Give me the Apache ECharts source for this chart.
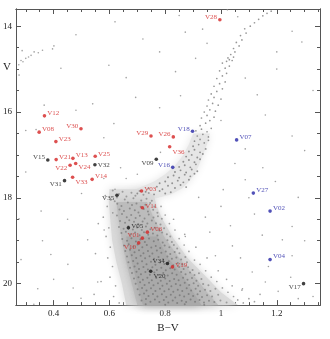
<!DOCTYPE html>
<html><head><meta charset="utf-8">
<script src="https://cdn.jsdelivr.net/npm/echarts@6/dist/echarts.min.js"></script>
<style>html,body{margin:0;padding:0;background:#fff}#c{width:330px;height:339px}</style>
</head><body><div id="c"></div>
<script>
// ---- axis ticks ----
const xTickLabels = [0.4, 0.6, 0.8, 1, 1.2];
const xMinorTicks = [0.3, 0.35, 0.45, 0.5, 0.55, 0.65, 0.7, 0.75, 0.85, 0.9, 0.95, 1.05, 1.1, 1.15, 1.25, 1.3, 1.35];
const yTickLabels = [14, 16, 18, 20];
const yMinorTicks = [14.5, 15, 15.5, 16.5, 17, 17.5, 18.5, 19, 19.5];

// ---- variable stars ----
const varNames = ['V28','V12','V08','V30','V23','V29','V26','V18','V36','V09','V16','V07','V15','V21','V13','V25','V22','V24','V32','V31','V33','V14','V35','V03','V11','V05','V06','V01','V10','V34','V19','V20','V27','V02','V04','V17'];
const varBV = [0.996,0.367,0.348,0.498,0.408,0.749,0.829,0.898,0.816,0.768,0.827,1.056,0.379,0.409,0.469,0.549,0.459,0.479,0.548,0.439,0.468,0.538,0.627,0.715,0.718,0.668,0.736,0.718,0.705,0.808,0.826,0.748,1.116,1.176,1.176,1.296];
const varV = [13.85,16.09,16.47,16.39,16.69,16.56,16.58,16.45,16.81,17.10,17.29,16.65,17.12,17.11,17.08,17.03,17.24,17.20,17.23,17.60,17.52,17.57,17.94,17.84,18.23,18.70,18.80,18.94,19.05,19.53,19.61,19.71,17.89,18.31,19.44,20.00];
const varGroup = ['red','red','red','red','red','red','red','blue','red','black','blue','blue','black','red','red','red','red','red','black','black','red','red','black','red','red','black','red','red','red','black','red','black','blue','blue','blue','black'];

// ---- density envelopes of the cluster sequences ----
const msEnvelope = [[0.60,17.8],[0.598,18.1],[0.603,18.5],[0.61,19.0],[0.625,19.5],[0.645,20.0],[0.66,20.5],[1.06,20.5],[1.0,20.2],[0.94,19.8],[0.88,19.4],[0.83,18.95],[0.79,18.5],[0.77,18.2],[0.76,17.95],[0.72,17.8]];
const msCore = [[0.625,18.1],[0.632,18.5],[0.645,19.0],[0.66,19.5],[0.68,20.0],[0.70,20.5],[0.99,20.5],[0.95,20.2],[0.9,19.8],[0.85,19.4],[0.8,18.95],[0.76,18.5],[0.735,18.1]];
const msDense = [[0.66,18.9],[0.68,19.5],[0.70,20.0],[0.72,20.5],[0.93,20.5],[0.9,20.2],[0.86,19.8],[0.81,19.4],[0.77,18.9]];
const sgbEnvelope = [[0.64,17.95],[0.70,17.78],[0.76,17.62],[0.80,17.45],[0.835,17.25],[0.865,17.0],[0.885,16.75],[0.9,16.5],[0.96,16.5],[0.95,16.75],[0.935,17.0],[0.92,17.25],[0.905,17.45],[0.885,17.62],[0.86,17.78],[0.82,17.92],[0.76,18.02]];

// ---- stars ----
const msUpper = [[0.612,17.83],[0.634,17.91],[0.647,17.86],[0.661,17.97],[0.679,17.88],[0.693,17.95],[0.708,17.84],[0.722,17.93],[0.741,17.89],[0.627,17.99],[0.655,18.04],[0.686,18.01],[0.714,18.06],[0.733,18.02],[0.752,18.07],[0.619,18.08],
[0.628,18.14],[0.643,18.19],[0.666,18.11],[0.681,18.17],[0.697,18.13],[0.712,18.21],[0.729,18.16],[0.746,18.12],[0.761,18.2],[0.636,18.27],[0.652,18.31],[0.673,18.25],[0.691,18.29],[0.704,18.34],[0.723,18.26],[0.738,18.32],[0.757,18.28],[0.772,18.35],
[0.627,18.41],[0.645,18.38],[0.662,18.45],[0.678,18.4],[0.694,18.47],[0.709,18.42],[0.726,18.48],[0.741,18.39],[0.758,18.46],[0.774,18.43],[0.788,18.49],[0.638,18.54],[0.656,18.58],[0.671,18.52],[0.688,18.56],[0.703,18.61],[0.719,18.55],[0.736,18.6],[0.752,18.53],[0.767,18.59],[0.783,18.62],
[0.634,18.68],[0.651,18.72],[0.668,18.66],[0.684,18.74],[0.699,18.69],[0.716,18.75],[0.731,18.67],[0.747,18.73],[0.763,18.7],[0.779,18.76],[0.796,18.71],[0.643,18.82],[0.659,18.79],[0.676,18.85],[0.692,18.81],[0.708,18.87],[0.724,18.8],[0.739,18.86],[0.756,18.83],[0.772,18.88],[0.789,18.81],[0.806,18.85],[0.818,18.9],
[0.646,18.96],[0.663,19.0],[0.679,18.94],[0.695,19.02],[0.711,18.97],[0.727,19.03],[0.742,18.95],[0.759,19.01],[0.775,18.98],[0.791,19.04],[0.808,18.99],[0.824,19.03],[0.652,19.11],[0.669,19.08],[0.686,19.14],[0.701,19.09],[0.718,19.15],[0.734,19.1],[0.75,19.16],[0.766,19.12],[0.782,19.17],[0.798,19.11],[0.815,19.15],[0.831,19.1],[0.843,19.18]];
const msLower = [[0.657,19.24],[0.674,19.21],[0.69,19.27],[0.706,19.22],[0.722,19.29],[0.738,19.24],[0.754,19.3],[0.77,19.23],[0.786,19.28],[0.802,19.25],[0.818,19.31],[0.834,19.26],[0.851,19.29],[0.663,19.37],[0.68,19.34],[0.696,19.4],[0.712,19.35],[0.728,19.41],[0.744,19.36],[0.76,19.42],[0.776,19.38],[0.792,19.43],[0.808,19.37],[0.824,19.42],[0.84,19.39],[0.857,19.44],[0.872,19.38],
[0.668,19.5],[0.685,19.47],[0.701,19.53],[0.717,19.48],[0.733,19.55],[0.749,19.49],[0.765,19.56],[0.781,19.51],[0.797,19.54],[0.813,19.48],[0.829,19.57],[0.845,19.52],[0.861,19.55],[0.878,19.5],[0.674,19.63],[0.69,19.6],[0.706,19.66],[0.722,19.61],[0.738,19.67],[0.754,19.62],[0.77,19.68],[0.786,19.63],[0.802,19.69],[0.818,19.64],[0.834,19.67],[0.85,19.61],[0.866,19.66],[0.882,19.62],[0.898,19.68],
[0.681,19.75],[0.697,19.72],[0.713,19.78],[0.729,19.73],[0.745,19.79],[0.761,19.74],[0.777,19.8],[0.793,19.75],[0.809,19.81],[0.825,19.76],[0.841,19.79],[0.857,19.73],[0.873,19.78],[0.889,19.74],[0.905,19.8],[0.921,19.76],[0.688,19.88],[0.704,19.85],[0.72,19.91],[0.736,19.86],[0.752,19.92],[0.768,19.87],[0.784,19.93],[0.8,19.88],[0.816,19.94],[0.832,19.89],[0.848,19.92],[0.864,19.86],[0.88,19.91],[0.896,19.87],[0.912,19.93],[0.93,19.89],
[0.694,20.0],[0.71,19.97],[0.726,20.03],[0.742,19.98],[0.758,20.04],[0.774,19.99],[0.79,20.05],[0.806,20.0],[0.822,20.06],[0.838,20.01],[0.854,20.04],[0.87,19.98],[0.886,20.03],[0.902,19.99],[0.918,20.05],[0.936,20.01],[0.955,20.04],[0.701,20.13],[0.717,20.1],[0.733,20.16],[0.749,20.11],[0.765,20.17],[0.781,20.12],[0.797,20.18],[0.813,20.13],[0.829,20.19],[0.845,20.14],[0.861,20.17],[0.877,20.11],[0.893,20.16],[0.909,20.12],[0.925,20.18],[0.943,20.14],[0.962,20.17],[0.98,20.12],
[0.708,20.26],[0.724,20.23],[0.74,20.29],[0.756,20.24],[0.772,20.3],[0.788,20.25],[0.804,20.31],[0.82,20.26],[0.836,20.32],[0.852,20.27],[0.868,20.3],[0.884,20.24],[0.9,20.29],[0.916,20.25],[0.932,20.31],[0.95,20.27],[0.968,20.3],[0.99,20.26],[0.715,20.39],[0.731,20.36],[0.747,20.42],[0.763,20.37],[0.779,20.43],[0.795,20.38],[0.811,20.44],[0.827,20.39],[0.843,20.45],[0.859,20.4],[0.875,20.43],[0.891,20.37],[0.907,20.42],[0.923,20.38],[0.939,20.44],[0.957,20.4],[0.976,20.43],[0.998,20.39],[1.02,20.44],[0.73,20.48],[0.8,20.49],[0.87,20.48],[0.94,20.49]];
const msHalo = [[0.585,17.95],[0.592,18.2],[0.578,18.45],[0.598,18.7],[0.588,18.9],[0.603,19.15],[0.594,19.4],[0.611,19.6],[0.602,19.85],[0.622,20.05],[0.615,20.3],[0.635,20.45],[0.56,18.6],[0.55,19.3],[0.57,19.95],[0.545,20.25],[0.605,18.05],[0.612,18.35],
[0.785,18.2],[0.8,18.4],[0.815,18.6],[0.835,18.75],[0.85,18.95],[0.868,19.1],[0.885,19.25],[0.905,19.45],[0.925,19.55],[0.945,19.7],[0.965,19.85],[0.985,19.95],[1.005,20.1],[1.025,20.2],[1.045,20.3],[1.06,20.38],[1.08,20.45],[1.1,20.35],[1.04,20.05],[0.99,19.7],[0.95,19.4],[0.91,19.15],[0.87,18.85],[0.83,18.5],[1.12,20.42],[1.14,20.25],[1.075,20.15],[1.02,19.9]];
const sgbStars = [[0.70,17.9],[0.73,17.86],[0.76,17.92],[0.78,17.84],[0.8,17.9],[0.82,17.87],[0.74,17.78],[0.77,17.74],[0.79,17.8],[0.81,17.72],[0.835,17.77],[0.855,17.7],[0.875,17.75],[0.78,17.66],[0.8,17.62],[0.825,17.66],[0.845,17.6],[0.865,17.64],[0.885,17.58],
[0.81,17.52],[0.83,17.48],[0.85,17.53],[0.87,17.46],[0.89,17.5],[0.905,17.44],[0.835,17.4],[0.855,17.36],[0.875,17.41],[0.895,17.34],[0.915,17.38],[0.85,17.28],[0.87,17.24],[0.89,17.29],[0.91,17.22],
[0.865,17.16],[0.885,17.12],[0.905,17.17],[0.925,17.1],[0.875,17.04],[0.895,17.0],[0.915,17.06],[0.935,16.98],[0.885,16.92],[0.905,16.88],[0.925,16.94],[0.945,16.86],[0.9,16.8]];
const rgbStars = [[0.92,16.76],[0.94,16.72],[0.905,16.68],[0.925,16.64],[0.955,16.66],[0.915,16.56],[0.935,16.52],[0.955,16.58],[0.91,16.44],[0.93,16.4],[0.95,16.46],[0.965,16.38],[0.925,16.32],
[0.945,16.26],[0.96,16.2],[0.93,16.14],[0.95,16.08],[0.975,16.12],[0.94,16.0],[0.96,15.95],[0.98,15.98],[0.95,15.86],[0.97,15.8],[0.99,15.84],[0.955,15.72],[0.975,15.66],[1.0,15.7],[0.965,15.58],[0.985,15.52],
[1.005,15.46],[0.975,15.4],[0.995,15.34],[1.015,15.3],[0.985,15.22],[1.005,15.16],[1.02,15.1],[0.995,15.04],[1.015,14.98],[1.03,14.93],[1.005,14.86],[1.02,14.82],[1.03,14.78],[1.04,14.8],[1.025,14.74],[1.045,14.72],[1.035,14.66],[1.05,14.6],
[1.045,14.52],[1.065,14.46],[1.055,14.38],[1.075,14.32],[1.07,14.22],[1.09,14.16],[1.085,14.06],[1.105,14.0],[1.12,13.92],[1.135,13.84],[1.15,13.76],[1.165,13.7],[1.18,13.65]];
const hbStars = [[0.283,14.8],[0.30,14.75],[0.319,14.68],[0.33,14.6],[0.401,14.46],[0.29,14.83],[0.31,14.72],[0.345,14.62],[0.36,14.56],[0.275,14.9],[0.366,15.84]];
const fieldStars = [[0.287,14.57],[0.396,14.53],[0.598,14.91],[0.54,15.81],[0.694,15.66],[0.616,16.27],[0.48,15.96],[0.30,16.43],[0.337,16.41],[0.783,16.94],[0.426,14.98],[0.276,15.14],
[1.023,13.62],[1.06,13.78],[0.872,14.14],[0.934,14.07],[0.909,14.75],[0.837,15.06],[1.159,16.07],[1.087,15.21],[1.087,16.86],[1.29,14.37],[1.255,14.12],[1.255,16.56],[0.855,15.62],
[0.355,18.31],[0.39,19.32],[0.276,18.49],[0.451,19.55],[0.283,19.44],[0.343,20.12],[0.498,20.34],[0.558,19.96],[0.581,18.75],[0.522,18.98],[0.329,20.48],
[1.087,17.58],[1.034,18.65],[1.148,18.87],[1.008,17.81],[0.944,18.45],[1.255,18.67],[0.98,19.35],[1.041,19.12],[1.255,19.35],[1.112,19.73],[1.159,19.96],[1.205,20.18],[1.277,20.35],[1.077,20.12],[1.22,18.98],[0.92,17.99],[0.872,18.9],[1.195,17.62],[1.277,17.99],[1.12,18.38],
[0.72,14.3],[0.66,15.2],[0.78,15.9],[0.58,16.6],[0.64,17.3],[0.7,17.45],[0.66,17.55],[1.0,16.2],[1.05,17.2],[1.15,17.3],[1.3,16.9],[1.33,15.5],[1.2,15.0],[0.5,17.9],[0.45,18.5],[0.4,19.9],[0.47,20.1],[0.3,17.4],[0.36,19.0],[1.3,19.0],[1.33,20.3],[1.17,19.6],[1.25,19.85],[1.07,19.4],[1.0,18.2],[0.96,18.8],[1.1,18.0],[0.48,14.2],[0.62,13.9],[0.85,13.75],[0.95,14.4],[0.78,14.6],[1.2,14.6],[1.13,15.6],[0.62,17.8],[0.58,17.55]];

// ---- presentation (not data) ----
const groupColor = {red:'#d42424', blue:'#2626a6', black:'#111111'};
const labelSide = {V28:'l',V12:'r',V08:'r',V30:'l',V23:'r',V29:'l',V26:'l',V18:'l',V36:'r',V09:'l',V16:'l',V07:'r',V15:'l',V21:'r',V13:'r',V25:'r',V22:'l',V24:'r',V32:'r',V31:'l',V33:'r',V14:'r',V35:'l',V03:'r',V11:'r',V05:'r',V06:'r',V01:'l',V10:'l',V34:'l',V19:'r',V20:'r',V27:'r',V02:'r',V04:'r',V17:'l'};
const labelDy = {V28:-3,V12:-3,V08:-3,V30:-3,V23:-2,V29:-3,V26:-3,V18:-2,V36:5,V09:4,V16:-2,V07:-3,V15:-3,V21:-2,V13:-3,V25:-2,V22:3,V24:4,V32:0,V31:4,V33:5,V14:-3,V35:3,V03:-2,V11:-2,V05:-2,V06:-3,V01:-3,V10:4,V34:-2,V19:-2,V20:5,V27:-3,V02:-3,V04:-3,V17:4};

const FONT = 'Liberation Serif';
const AX = '#555';
const XMIN = 0.265, XMAX = 1.355, YMIN = 13.6, YMAX = 20.5;

function polySeries(pts, color, blur, z) {
  return {type:'custom', coordinateSystem:'cartesian2d', xAxisIndex:0, yAxisIndex:0, silent:true, z:z,
    data:[pts[0]],
    renderItem:function(params, api){
      return {type:'polygon', shape:{points: pts.map(function(p){return api.coord(p);})},
        style:{fill:color, shadowBlur:blur, shadowColor:color}};
    }};
}
function dots(data, size, color, z) {
  return {type:'scatter', xAxisIndex:0, yAxisIndex:0, silent:true, z:z, symbol:'circle', symbolSize:size,
    itemStyle:{color:color}, data:data};
}
function xAx(pos, ticks, len, labels) {
  return {type:'value', position:pos, min:XMIN, max:XMAX, gridIndex:0,
    axisLine:{show:true, onZero:false, lineStyle:{color:AX, width:1}},
    splitLine:{show:false},
    axisTick:{show:true, inside:true, length:len, customValues:ticks, lineStyle:{color:AX}},
    axisLabel:labels ? {show:true, customValues:labels, fontFamily:FONT, fontSize:9, color:'#222', margin:4} : {show:false},
    name: labels ? 'B\u2212V' : '', nameLocation:'middle', nameGap:13,
    nameTextStyle:{fontFamily:FONT, fontSize:11, color:'#222'}};
}
function yAx(pos, ticks, len, labels) {
  return {type:'value', position:pos, min:YMIN, max:YMAX, inverse:true, gridIndex:0,
    axisLine:{show:true, onZero:false, lineStyle:{color:AX, width:1}},
    splitLine:{show:false},
    axisTick:{show:true, inside:true, length:len, customValues:ticks, lineStyle:{color:AX}},
    axisLabel:labels ? {show:true, customValues:labels, fontFamily:FONT, fontSize:9, color:'#222', margin:4} : {show:false}};
}

const series = [
  polySeries(sgbEnvelope, '#e6e6e6', 8, 1),
  polySeries(msEnvelope, '#dadada', 10, 1),
  polySeries(msCore, '#bcbcbc', 10, 2),
  polySeries(msDense, '#a9a9a9', 10, 2),
  dots(msUpper, 2, 'rgba(80,80,80,0.55)', 3),
  dots(msLower, 2, 'rgba(80,80,80,0.55)', 3),
  dots(msHalo, 1.7, '#8a8a8a', 3),
  dots(sgbStars, 1.9, '#7c7c7c', 3),
  dots(rgbStars, 1.7, '#7c7c7c', 3),
  dots(hbStars, 1.6, '#8a8a8a', 3),
  dots(fieldStars, 1.6, '#8a8a8a', 3)
];
['red','blue','black'].forEach(function(g){
  const data = [];
  varNames.forEach(function(n, i){
    if (varGroup[i] !== g) return;
    const left = labelSide[n] === 'l';
    data.push({name:n, value:[varBV[i], varV[i]],
      label:{position: left ? 'left' : 'right', offset:[0, labelDy[n]]}});
  });
  series.push({type:'scatter', xAxisIndex:0, yAxisIndex:0, z:10, symbol:'circle', symbolSize:3.6,
    itemStyle:{color:groupColor[g]}, data:data,
    label:{show:true, formatter:'{b}', distance:1, fontFamily:FONT, fontSize:7, color:groupColor[g]}});
});

const chart = echarts.init(document.getElementById('c'), null, {renderer:'canvas'});
chart.setOption({
  animation:false,
  backgroundColor:'#fff',
  grid:{left:15, top:9, width:305, height:304},
  xAxis:[xAx('bottom', xTickLabels, 5, xTickLabels), xAx('bottom', xMinorTicks, 3, null),
         xAx('top', xTickLabels, 5, null), xAx('top', xMinorTicks, 3, null)],
  yAxis:[yAx('left', yTickLabels, 5, yTickLabels), yAx('left', yMinorTicks, 3, null),
         yAx('right', yTickLabels, 5, null), yAx('right', yMinorTicks, 3, null)],
  graphic:[{type:'text', left:3, top:62, style:{text:'V', font:'11px "Liberation Serif"', fill:'#222'}}],
  series:series
});
</script></body></html>
